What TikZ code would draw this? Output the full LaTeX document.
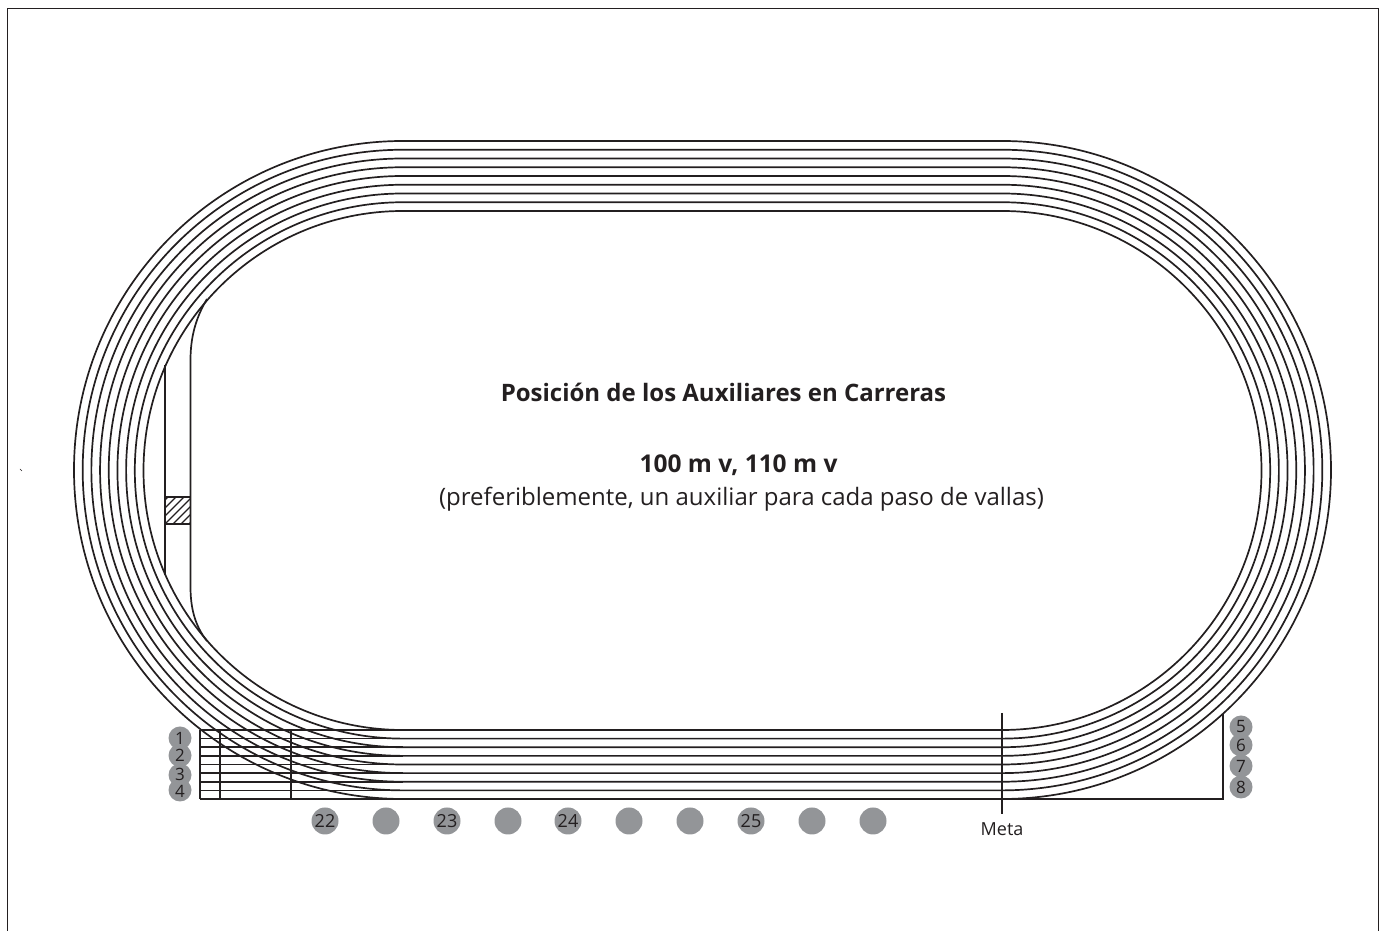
\documentclass[tikz,border=0pt]{standalone}
\usepackage{fontspec}
\setmainfont{Open Sans}
\definecolor{ink}{HTML}{231F20}
\definecolor{dot}{HTML}{939598}
\tikzset{
  x=1pt,y=1pt,
  lane/.style={draw=ink,line width=1.7pt},
  frameline/.style={draw=ink,line width=0.9pt},
  smalldot/.style={circle,fill=dot,minimum size=23pt,inner sep=0pt},
  bigdot/.style={circle,fill=dot,minimum size=27pt,inner sep=0pt,text=ink,font=\fontsize{18}{18}\selectfont},
  digit/.style={text=ink,inner sep=0pt,font=\fontsize{17}{17}\selectfont},
  lbl/.style={text=ink,inner sep=0pt,anchor=center}
}
\begin{document}
\begin{tikzpicture}
\useasboundingbox (0,0) rectangle (1387,931);
% frame
\draw[frameline] (7,0) -- (7,923) -- (1378,923) -- (1378,0);
\draw[ink,line width=0.5pt] (20,462) -- (22,460);
% lanes
\foreach \i in {0,...,8}{
  \pgfmathsetmacro{\r}{259.5+\i*8.6875}
  \pgfmathsetmacro{\cy}{460.5+\i*0.0625}
  \draw[lane] (403,\cy+\r) -- (1002,\cy+\r) arc[start angle=90,end angle=-90,radius=\r] -- (403,\cy-\r) arc[start angle=270,end angle=90,radius=\r];
  \draw[lane] (200,\cy-\r) -- (403,\cy-\r);
}
% infield
\draw[lane] (207,632) .. controls (195,612) and (190.5,592) .. (190.5,571) -- (190.5,344) .. controls (190.5,323) and (195,305) .. (207,290);
\draw[lane] (165,566) -- (165,356);
\begin{scope}
\clip (165,407) rectangle (190.5,434);
\foreach \k in {-32,-24,...,40}{
  \draw[ink,line width=1.3pt] (165+\k,407) -- (192+\k,434);
}
\end{scope}
\draw[lane] (165,434) -- (190.5,434) (165,407) -- (190.5,407);
% start area
\draw[lane] (200,201) -- (200,132) (220,201) -- (220,132) (291,201) -- (291,132);
% finish
\draw[lane] (1002,218) -- (1002,117);
\draw[lane] (1002,132) -- (1223,132) -- (1223,217);
% numbered dots
\node[smalldot] (n1) at (180,193) {};
\node[smalldot] (n2) at (180,175.5) {};
\node[smalldot] (n3) at (180,156) {};
\node[smalldot] (n4) at (180,141) {};
\node[smalldot] (n5) at (1241,204) {};
\node[smalldot] (n6) at (1241,186) {};
\node[smalldot] (n7) at (1241,165) {};
\node[smalldot] (n8) at (1241,144) {};
\node[digit] at (n1) {1};
\node[digit] at (n2) {2};
\node[digit] at ([yshift=0.5pt]n3) {3};
\node[digit] at ([yshift=-1pt]n4) {4};
\node[digit] at (n5) {5};
\node[digit] at (n6) {6};
\node[digit] at (n7) {7};
\node[digit] at (n8) {8};
\node[bigdot] (a1) at (325,110) {22};
\node[bigdot] (a2) at (386,110) {};
\node[bigdot] (a3) at (447,110) {23};
\node[bigdot] (a4) at (508,110) {};
\node[bigdot] (a5) at (568,110) {24};
\node[bigdot] (a6) at (629,110) {};
\node[bigdot] (a7) at (690,110) {};
\node[bigdot] (a8) at (751,110) {25};
\node[bigdot] (a9) at (812,110) {};
\node[bigdot] (a10) at (873,110) {};
% text
\node[lbl,font=\fontsize{18}{18}\selectfont] (meta) at (1002,101.5) {Meta};
\node[lbl,font=\bfseries\fontsize{24}{24}\selectfont] (t1) at (723.5,539) {Posición de los Auxiliares en Carreras};
\node[lbl,font=\bfseries\fontsize{24.5}{24}\selectfont] (t2) at (738.5,466) {100 m v, 110 m v};
\node[lbl,font=\fontsize{24}{24}\selectfont] (t3) at (741.5,431.5) {(preferiblemente, un auxiliar para cada paso de vallas)};
\end{tikzpicture}
\end{document}
